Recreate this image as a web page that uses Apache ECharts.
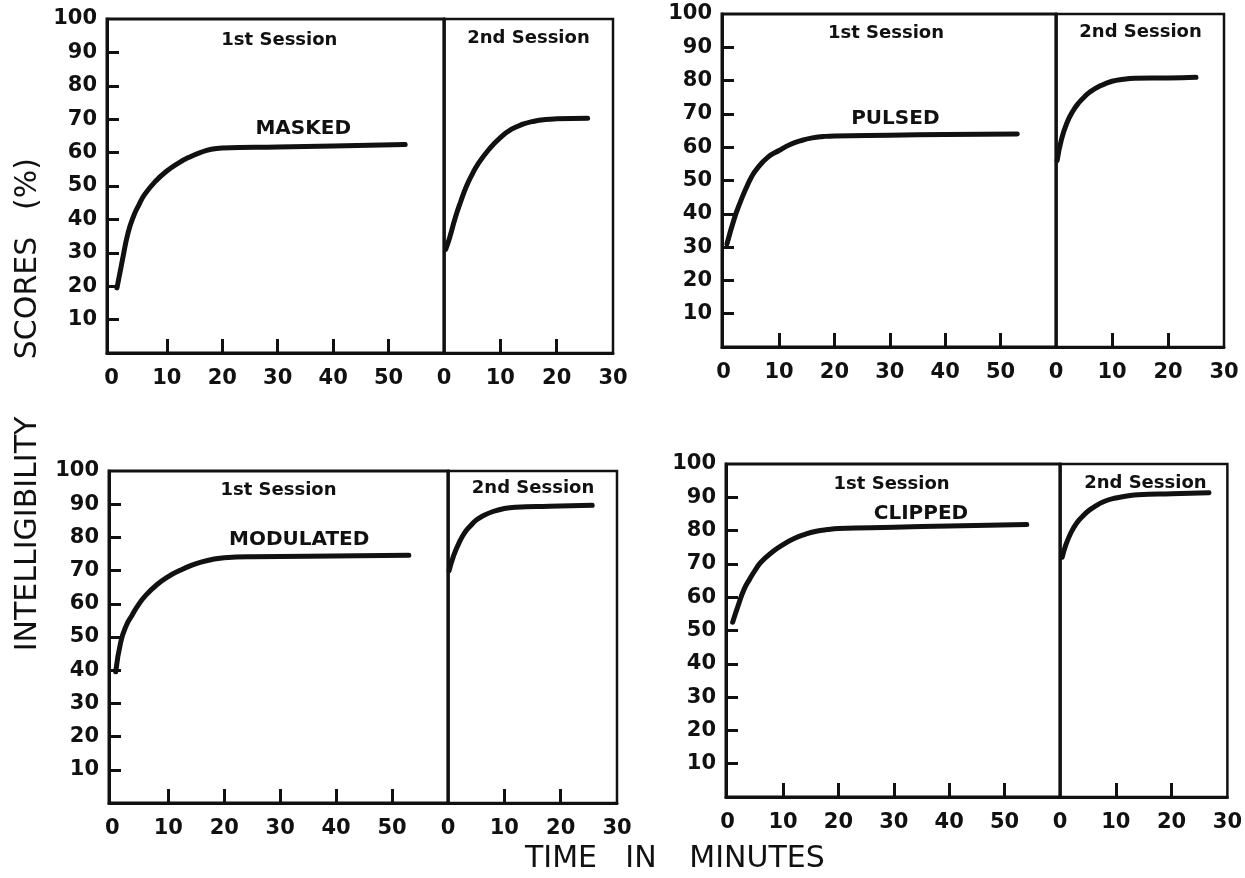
<!DOCTYPE html>
<html>
<head>
<meta charset="utf-8">
<title>Intelligibility scores</title>
<script src="https://cdn.jsdelivr.net/npm/echarts@6/dist/echarts.min.js"></script>
<style>html,body{margin:0;background:#fff;}</style>
</head>
<body>
<div id="main" style="width:1245px;height:878px;"></div>
<script type="text/javascript">
    // curves: [minutes, score %]
    var maskedFirst = [[1, 19.5], [2, 28], [3, 36], [4, 41], [5, 44.5], [6, 47.5], [8, 51.5], [10, 54.5], [12, 56.8], [14, 58.6], [16, 60], [18, 61], [20, 61.4], [30, 61.7], [40, 62], [53, 62.4]];
    var maskedSecond = [[0.3, 31], [1, 34.5], [2, 40.5], [3, 45.5], [4, 50], [5, 53.5], [6, 56.5], [8, 61], [10, 64.5], [12, 67], [14, 68.5], [16, 69.4], [18, 69.9], [20, 70.1], [25.5, 70.3]];
    var pulsedFirst = [[0.6, 31], [2, 39], [3, 43.5], [4, 47.5], [5, 51], [6, 53.5], [8, 57], [10, 59], [12, 60.8], [14, 62], [16, 62.8], [18, 63.2], [20, 63.4], [30, 63.6], [40, 63.8], [53, 64]];
    var pulsedSecond = [[0.2, 56], [1, 62.5], [2, 67.5], [3, 70.8], [4, 73.2], [5, 75], [6, 76.5], [8, 78.5], [10, 79.8], [12, 80.4], [14, 80.7], [20, 80.8], [25, 81]];
    var modulatedFirst = [[0.6, 39.5], [1.5, 48.5], [2.5, 53.5], [3.5, 56.5], [4.5, 59.3], [6, 62.6], [8, 65.8], [10, 68.2], [12, 70], [14, 71.5], [16, 72.6], [18, 73.4], [20, 73.9], [25, 74.2], [35, 74.3], [53, 74.6]];
    var modulatedSecond = [[0.2, 70], [1, 74.5], [2, 78.5], [3, 81.5], [4, 83.5], [5, 85.2], [6, 86.3], [8, 87.8], [10, 88.7], [12, 89.1], [18, 89.4], [25.6, 89.7]];
    var clippedFirst = [[0.9, 52.5], [2, 58], [3, 62.5], [4, 65.5], [5, 68.2], [6, 70.5], [8, 73.5], [10, 75.8], [12, 77.6], [14, 78.9], [16, 79.8], [18, 80.3], [20, 80.6], [30, 81], [40, 81.4], [54, 81.8]];
    var clippedSecond = [[0.4, 72], [1, 75.5], [2, 79.5], [3, 82.3], [4, 84.2], [5, 85.8], [6, 87], [8, 88.8], [10, 89.8], [12, 90.4], [14, 90.8], [20, 91.1], [26.7, 91.4]];

    var conditions = ['MASKED', 'PULSED', 'MODULATED', 'CLIPPED'];
    var firstCurves = [maskedFirst, pulsedFirst, modulatedFirst, clippedFirst];
    var secondCurves = [maskedSecond, pulsedSecond, modulatedSecond, clippedSecond];

    // tick labels
    var yLabels = [10, 20, 30, 40, 50, 60, 70, 80, 90, 100];
    var yTicks = [10, 20, 30, 40, 50, 60, 70, 80, 90];
    var firstXLabels = [0, 10, 20, 30, 40, 50];
    var firstXTicks = [10, 20, 30, 40, 50];
    var secondXLabels = [0, 10, 20, 30];
    var secondXTicks = [10, 20];

    // where the texts sit, in data units of each panel
    var conditionPos = [[34.6, 67], [31, 68.5], [33.4, 79.3], [34.9, 84.9]];
    var firstTitlePos = [[30.3, 93.7], [29.3, 94.1], [29.7, 94.1], [29.6, 93.9]];
    var secondTitlePos = [[15, 94.2], [15.1, 94.6], [15.1, 94.9], [15.3, 94.3]];

    // panel boxes in px: left, top, divider, right, bottom, x min of 1st session
    var boxes = [
        [107, 19, 444, 613, 353, -0.8],
        [722, 14, 1056, 1224, 347, -0.3],
        [109, 471, 448, 617, 803, -0.6],
        [726, 464, 1060, 1229, 797, -0.3]
    ];

    var ink = '#111';
    var font = 'DejaVu Sans';

    var grids = [], xAxes = [], yAxes = [], series = [];

    boxes.forEach(function (b, p) {
        var g1 = p * 2, g2 = p * 2 + 1;
        var h = b[4] - b[1];
        grids.push({left: b[0], top: b[1], width: b[2] - b[0], height: h,
            show: true, borderColor: ink, borderWidth: 3});
        grids.push({left: b[2], top: b[1], width: b[3] - b[2], height: h,
            show: true, borderColor: ink, borderWidth: 2.5});

        var labelStyle = {color: ink, fontFamily: font, fontWeight: 'bold', fontSize: 21};
        xAxes.push({
            gridIndex: g1, type: 'value', min: b[5], max: 60,
            axisLine: {onZero: false, lineStyle: {color: ink, width: 3}},
            axisTick: {inside: true, length: 14, customValues: firstXTicks, lineStyle: {color: ink, width: 3}},
            axisLabel: Object.assign({customValues: firstXLabels, margin: 15}, labelStyle),
            splitLine: {show: false}
        });
        xAxes.push({
            gridIndex: g2, type: 'value', min: 0, max: 30,
            axisLine: {onZero: false, lineStyle: {color: ink, width: 3}},
            axisTick: {inside: true, length: 14, customValues: secondXTicks, lineStyle: {color: ink, width: 3}},
            axisLabel: Object.assign({customValues: secondXLabels, margin: 15}, labelStyle),
            splitLine: {show: false}
        });
        yAxes.push({
            gridIndex: g1, type: 'value', min: 0, max: 100,
            axisLine: {show: true, onZero: false, lineStyle: {color: ink, width: 3}},
            axisTick: {inside: true, length: 12, customValues: yTicks, lineStyle: {color: ink, width: 3}},
            axisLabel: Object.assign({customValues: yLabels, margin: 10}, labelStyle),
            splitLine: {show: false}
        });
        yAxes.push({
            gridIndex: g2, type: 'value', min: 0, max: 100,
            axisLine: {show: true, onZero: false, lineStyle: {color: ink, width: 2.5}},
            axisTick: {show: false}, axisLabel: {show: false},
            splitLine: {show: false}
        });

        [[g1, firstCurves[p]], [g2, secondCurves[p]]].forEach(function (c) {
            series.push({
                type: 'line', xAxisIndex: c[0], yAxisIndex: c[0], data: c[1],
                smooth: 0.5, showSymbol: false, silent: true,
                lineStyle: {color: ink, width: 5, cap: 'round', join: 'round'}
            });
        });
    });

    function text(txt, x, y, size, weight, rot) {
        return {type: 'text', x: x, y: y, rotation: rot || 0, silent: true, z: 10,
            style: {text: txt, fill: ink, fontFamily: font, fontSize: size,
                fontWeight: weight, align: 'center', verticalAlign: 'middle'}};
    }

    var myChart = echarts.init(document.getElementById('main'));
    myChart.setOption({
        backgroundColor: '#fff',
        animation: false,
        grid: grids,
        xAxis: xAxes,
        yAxis: yAxes,
        series: series
    });

    // in-panel texts placed through each grid's own scales
    var graphics = [
        text('INTELLIGIBILITY', 28, 534, 30, 'normal', Math.PI / 2),
        text('SCORES', 28, 298, 30, 'normal', Math.PI / 2),
        text('(%)', 28, 184, 30, 'normal', Math.PI / 2),
        text('TIME', 561, 859, 30, 'normal'),
        text('IN', 641, 859, 30, 'normal'),
        text('MINUTES', 757, 859, 30, 'normal')
    ];
    conditions.forEach(function (name, p) {
        var a = myChart.convertToPixel({gridIndex: p * 2}, conditionPos[p]);
        var s1 = myChart.convertToPixel({gridIndex: p * 2}, firstTitlePos[p]);
        var s2 = myChart.convertToPixel({gridIndex: p * 2 + 1}, secondTitlePos[p]);
        graphics.push(text(name, a[0], a[1], 20, 'bold'));
        graphics.push(text('1st Session', s1[0], s1[1], 18, 'bold'));
        graphics.push(text('2nd Session', s2[0], s2[1], 18, 'bold'));
    });
    myChart.setOption({graphic: graphics});
</script>
</body>
</html>
